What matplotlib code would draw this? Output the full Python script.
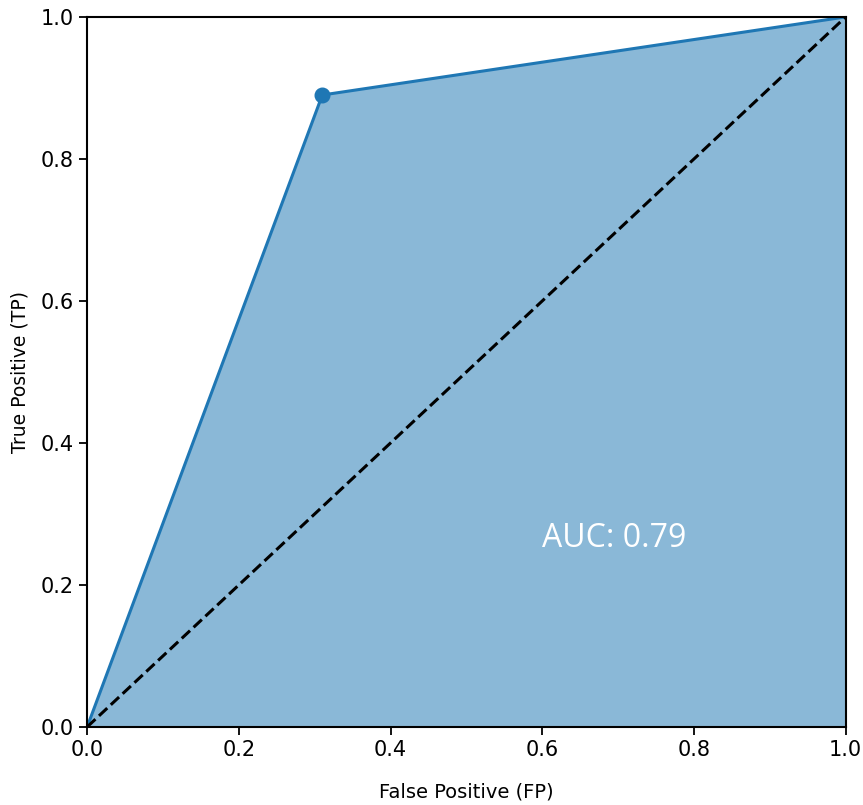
import numpy as np
import matplotlib
matplotlib.use('Agg')
import matplotlib.pyplot as plt

# ROC points
fpr = [0.0, 0.31, 1.0]
tpr = [0.0, 0.89, 1.0]
auc_value = 0.79

fig = plt.figure(figsize=(8.63, 8.05), dpi=100)
ax = fig.add_axes([0.101, 0.097, 0.879, 0.882])

ax.fill_between(fpr, tpr, 0, color='C0', alpha=0.52, linewidth=0)
ax.plot(fpr, tpr, color='C0', linewidth=2.2)
ax.plot(fpr[1], tpr[1], 'o', color='C0', markersize=10.5)
ax.plot([0, 1], [0, 1], 'k--', linewidth=2.2)

ax.text(0.6, 0.265, f'AUC: {auc_value:.2f}', color='white', fontsize=23,
        family='Open Sans', va='center', ha='left')

ax.set_xlim(0, 1)
ax.set_ylim(0, 1)
ax.tick_params(labelsize=15, length=6, width=1.3)
ax.set_xlabel('False Positive (FP)', fontsize=14, labelpad=16)
ax.set_ylabel('True Positive (TP)', fontsize=13.5, labelpad=8)
for s in ax.spines.values():
    s.set_linewidth(1.5)

plt.savefig('out.png', dpi=100)
